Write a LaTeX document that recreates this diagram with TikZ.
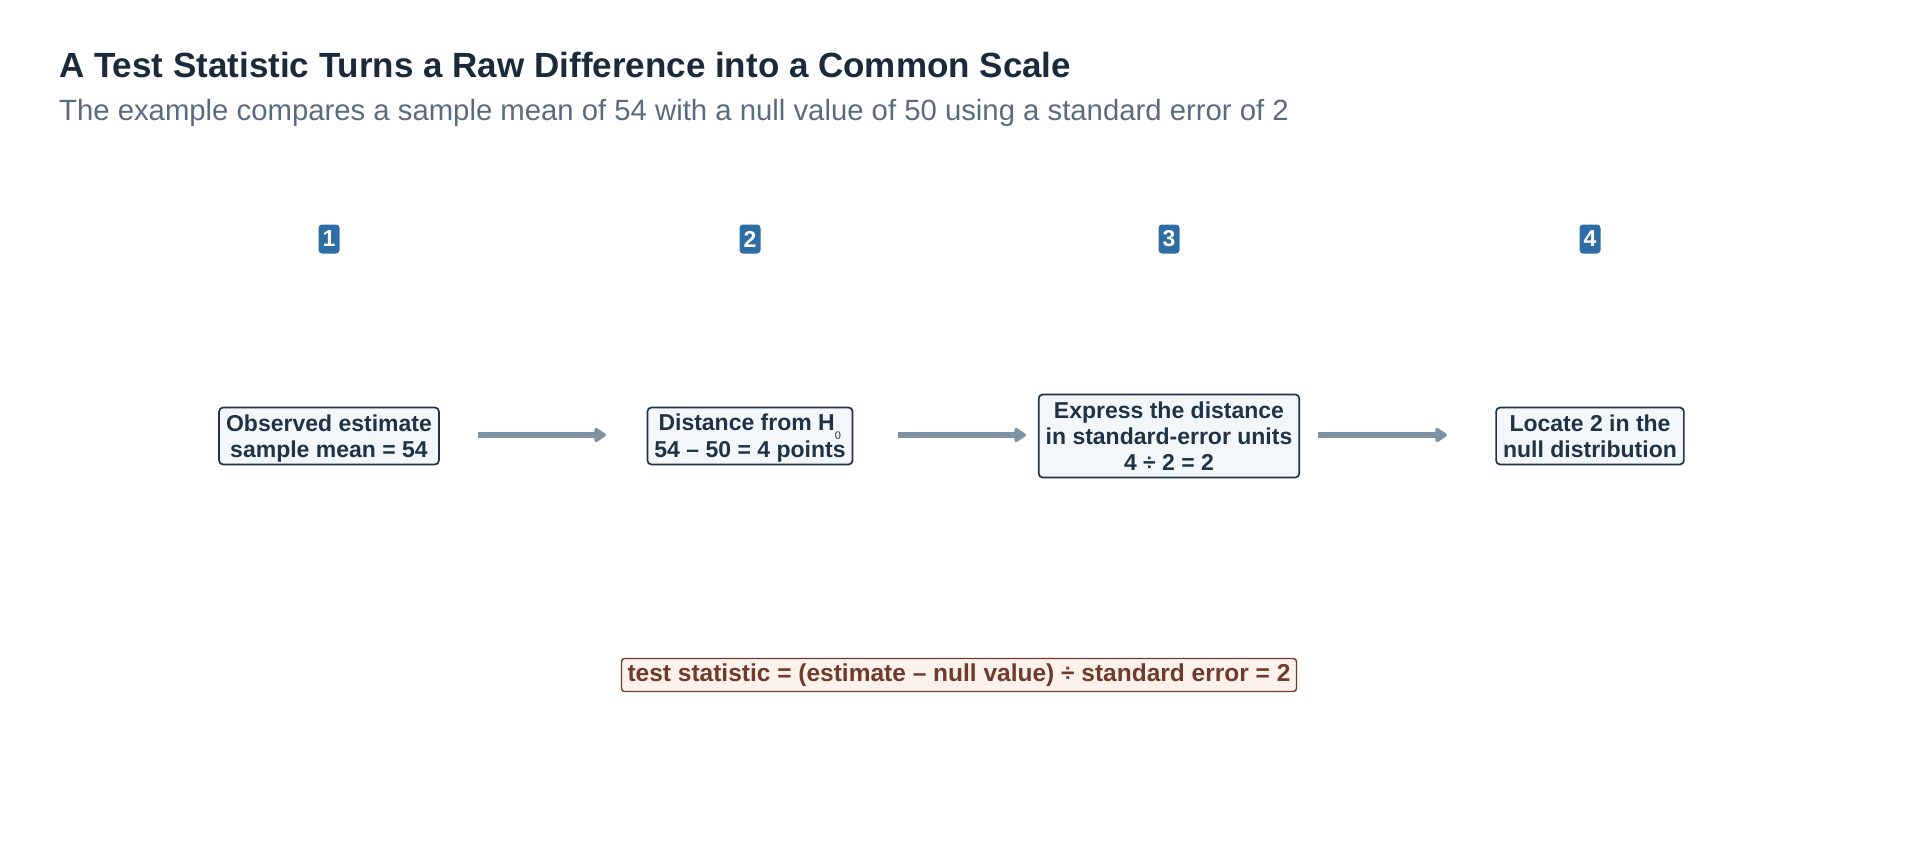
\documentclass[tikz,border=0pt]{standalone}
\usepackage{fontspec}
\setmainfont{Liberation Sans}
\usetikzlibrary{arrows.meta}
\definecolor{titlec}{HTML}{1B2A3A}
\definecolor{subc}{HTML}{5B6B7F}
\definecolor{badgec}{HTML}{2E6CA4}
\definecolor{boxfill}{HTML}{F4F7FA}
\definecolor{boxline}{HTML}{1F3347}
\definecolor{arrowc}{HTML}{7D93A4}
\definecolor{formfill}{HTML}{FDF2EB}
\definecolor{formline}{HTML}{6E3B2C}
\newcommand{\nodepth}[1]{\raisebox{0pt}[\height][0pt]{#1}}
\begin{document}
\begin{tikzpicture}[x=1pt,y=-1pt,
  stepbox/.style={draw=boxline,line width=1.7pt,fill=boxfill,rounded corners=4pt,
    align=center,font=\fontsize{23}{25.7}\selectfont\bfseries,text=boxline,
    inner xsep=7pt,inner ysep=4pt,minimum height=57pt},
  badge/.style={fill=badgec,rounded corners=3.5pt,text=white,
    font=\fontsize{23}{24}\selectfont\bfseries,minimum width=21pt,minimum height=29pt,inner sep=0pt},
  flow/.style={draw=arrowc,line width=6pt,-{Triangle[length=13pt,width=16pt,round]}},
  formula/.style={draw=formline,line width=1.4pt,fill=formfill,rounded corners=3pt,
    font=\fontsize{24.5}{27}\selectfont\bfseries,text=formline,inner xsep=6pt,inner ysep=3pt,
    minimum height=33pt}]
\useasboundingbox (0,0) rectangle (1920,844);
\node[anchor=base west,text=titlec,font=\fontsize{35}{40}\selectfont\bfseries,inner sep=0pt] (title) at (59,77) {A Test Statistic Turns a Raw Difference into a Common Scale};
\node[anchor=base west,text=subc,font=\fontsize{29.3}{34}\selectfont,inner sep=0pt] (sub) at (59,120) {The example compares a sample mean of 54 with a null value of 50 using a standard error of 2};

\node[badge] (b1) at (329,239) {1};
\node[badge] (b2) at (750,239) {2};
\node[badge] (b3) at (1169,239) {3};
\node[badge] (b4) at (1590,239) {4};

\node[stepbox] (s1) at (329,436) {Observed estimate\\\nodepth{sample mean = 54}};
\node[stepbox] (s2) at (750,436) {Distance from H\textsubscript{\normalfont\fontsize{11}{11}\selectfont\raisebox{-0.9ex}{0}}\\\nodepth{54 – 50 = 4 points}};
\node[stepbox,minimum height=83pt] (s3) at (1169,436) {Express the distance\\in standard-error units\\4 ÷ 2 = 2};
\node[stepbox] (s4) at (1590,436) {Locate 2 in the\\null distribution};

\coordinate (a1s) at (478,435); \coordinate (a1e) at (606,435);
\coordinate (a2s) at (898,435); \coordinate (a2e) at (1026,435);
\coordinate (a3s) at (1318,435); \coordinate (a3e) at (1447,435);
\draw[flow] (a1s) -- (a1e);
\draw[flow] (a2s) -- (a2e);
\draw[flow] (a3s) -- (a3e);

\node[formula] (f) at (959,675) {test statistic = (estimate – null value) ÷ standard error = 2};
\end{tikzpicture}
\end{document}
